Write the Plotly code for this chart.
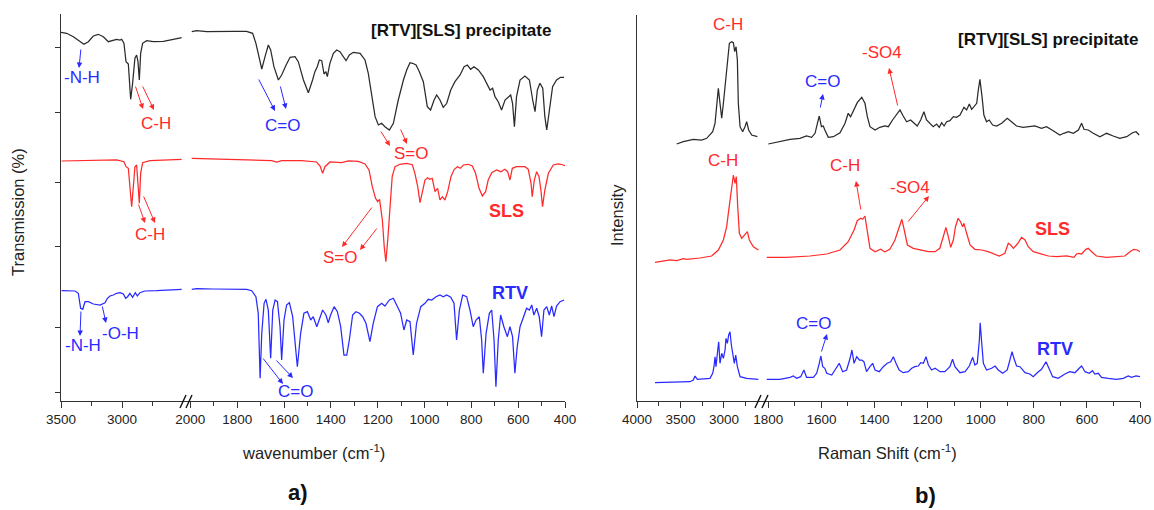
import plotly.graph_objects as go

W, H = 1154, 510

# ---------------- Panel a : FTIR ----------------
# high-wavenumber segment (3500-2450)
ir_prec_hi_x = [3500, 3454, 3399, 3344, 3312, 3276, 3235, 3194, 3153, 3112, 3071, 3044, 3016, 3003, 2984, 2967, 2948, 2929, 2913, 2894, 2880, 2869, 2858, 2847, 2831, 2798, 2743, 2661, 2579, 2511]
ir_prec_hi_y = [367.7, 366.7, 363.3, 358.3, 355.7, 358.3, 364, 365.7, 363.3, 358.3, 359.3, 360.7, 360, 360.7, 356.7, 338.3, 336, 300.7, 316.7, 341.7, 345, 338.3, 320, 346.7, 356.7, 359.3, 358.3, 358.7, 360.7, 362.3]
ir_sls_hi_x = [3495, 3317, 3180, 3044, 2984, 2967, 2948, 2935, 2921, 2907, 2894, 2880, 2869, 2858, 2847, 2831, 2771, 2634, 2511]
ir_sls_hi_y = [239, 239.3, 239.7, 240, 238.3, 233.3, 231.7, 213.3, 193.3, 213.3, 233.3, 235, 220, 196.7, 226.7, 237.3, 239.3, 240, 240.7]
ir_rtv_hi_x = [3495, 3385, 3358, 3339, 3322, 3303, 3276, 3235, 3180, 3139, 3120, 3098, 3071, 3044, 3016, 2989, 2970, 2954, 2935, 2913, 2891, 2874, 2853, 2812, 2716, 2607, 2511]
ir_rtv_hi_y = [109.3, 109, 106.7, 91.7, 90.7, 98.3, 98.3, 96, 95, 97.3, 101.7, 104, 105, 106.7, 107.3, 106, 101.7, 103.3, 106.7, 102.7, 107.3, 104, 107.3, 109, 109.3, 110, 110.7]

# low-wavenumber segment (2010-400)
ir_prec_lo_x = [1994, 1973, 1930, 1873, 1816, 1760, 1734, 1720, 1705, 1695, 1681, 1667, 1657, 1643, 1624, 1610, 1591, 1574, 1553, 1539, 1517, 1496, 1478, 1468, 1458, 1449, 1439, 1429, 1421, 1415, 1404, 1389, 1375, 1361, 1347, 1335, 1321, 1304, 1275, 1254, 1240, 1226, 1211, 1197, 1183, 1169, 1150, 1133, 1112, 1090, 1076, 1062, 1051, 1036, 1022, 1005, 988, 974, 959, 948, 934, 920, 905, 888, 870, 848, 831, 817, 803, 789, 770, 749, 735, 720, 709, 699, 685, 671, 656, 642, 632, 624, 616, 607, 592, 571, 552, 538, 528, 518, 507, 495, 486, 478, 467, 453, 436, 419, 404]
ir_prec_lo_y = [368.3, 369.3, 368.3, 368.7, 368.7, 368.7, 366.7, 356.7, 340, 331, 343.3, 355, 350, 333.3, 320, 325, 335, 342.7, 343.3, 338.3, 320, 307.3, 320, 328.3, 333.3, 340, 339.3, 326, 328.3, 323.3, 336.7, 346.7, 350, 348.3, 343.3, 339.3, 345, 347.7, 346.7, 340, 326.7, 303.3, 283.3, 275, 276.7, 273.3, 270, 276.7, 300, 320, 330, 337.3, 336.7, 335, 328.3, 318.3, 293.3, 290, 300, 305, 300, 292.7, 296.7, 310, 318.3, 325, 333.3, 335, 330.7, 333.3, 330, 323.3, 316.7, 310, 311.7, 303.3, 298.3, 290, 300, 303.3, 305, 296.7, 273.3, 303.3, 320, 324, 320, 300, 288.3, 310, 316.7, 311.7, 283.3, 270, 290, 313.3, 320, 322.7, 322.7]
ir_sls_lo_x = [1994, 1880, 1738, 1653, 1631, 1610, 1525, 1461, 1446, 1435, 1425, 1404, 1354, 1325, 1283, 1254, 1237, 1223, 1209, 1200, 1192, 1180, 1172, 1165, 1157, 1147, 1138, 1126, 1105, 1076, 1052, 1041, 1029, 1019, 1009, 998, 987, 977, 967, 955, 944, 934, 924, 913, 901, 887, 873, 859, 847, 834, 813, 796, 782, 767, 753, 739, 728, 713, 692, 674, 657, 645, 635, 625, 607, 571, 557, 545, 540, 531, 521, 511, 503, 496, 486, 471, 450, 429, 407, 400]
ir_sls_lo_y = [241.7, 240.7, 240, 239.3, 238, 239.3, 239.3, 238, 234, 226.7, 233.3, 238, 237.3, 239, 238.7, 236, 230, 213.3, 201.7, 198.3, 200.7, 180, 153.3, 138.3, 160, 196.7, 223.3, 233.3, 235.7, 236.7, 235.3, 226.7, 213.3, 197.3, 210, 220, 222.3, 220.7, 221.7, 208.3, 211.7, 200, 203.3, 200, 208.3, 223.3, 230.7, 233.3, 231.7, 235, 235.7, 234, 226.7, 211.7, 204, 208.3, 220, 227.3, 230, 228.3, 230.7, 228.3, 220, 231.7, 233.3, 233.3, 230.7, 216.7, 203.3, 220, 228.3, 223.3, 210, 193.3, 210, 226.7, 235, 236, 235, 234.3]
ir_rtv_lo_x = [1994, 1973, 1902, 1831, 1759, 1738, 1720, 1710, 1702, 1695, 1685, 1677, 1667, 1657, 1648, 1638, 1628, 1617, 1610, 1600, 1589, 1577, 1563, 1543, 1529, 1515, 1500, 1486, 1475, 1460, 1449, 1435, 1421, 1411, 1401, 1386, 1372, 1358, 1344, 1332, 1321, 1307, 1293, 1278, 1264, 1250, 1233, 1219, 1201, 1183, 1169, 1150, 1133, 1119, 1102, 1088, 1076, 1062, 1048, 1034, 1016, 998, 984, 969, 951, 934, 920, 905, 888, 874, 863, 851, 837, 820, 806, 792, 780, 766, 756, 749, 737, 723, 713, 703, 695, 685, 675, 661, 646, 635, 624, 614, 604, 592, 578, 564, 552, 542, 533, 521, 510, 500, 490, 478, 467, 457, 447, 436, 421, 404]
ir_rtv_lo_y = [110.7, 111.3, 111, 110.7, 110.7, 109.3, 103.3, 86.7, 21.7, 66.7, 96.7, 100.7, 90, 41.7, 90, 100, 98.3, 73.3, 40, 80, 95, 97.3, 83.3, 33.3, 66.7, 86.7, 88.3, 80, 83.3, 73.3, 81.7, 90, 85, 77.3, 85, 93.3, 88.3, 73.3, 45, 45, 60, 85, 88.3, 86.7, 83.3, 76.7, 58.3, 76.7, 93.3, 96.7, 94, 100, 101.7, 95, 86.7, 70, 80, 78.3, 45, 76.7, 93.3, 96.7, 100.7, 100, 103.3, 105, 103.3, 105, 102.7, 96.7, 60, 90, 105, 103.3, 90, 73.3, 80, 83.3, 60, 26.7, 66.7, 86.7, 90, 60, 13.3, 60, 85, 73.3, 63.3, 73.3, 63.3, 26.7, 53.3, 73.3, 83.3, 91.7, 90, 95, 85, 91.7, 83.3, 63.3, 90, 93.3, 85, 94, 83.3, 94, 98.3, 100]

# ---------------- Panel b : Raman ----------------
ra_prec_hi_x = [3543, 3467, 3352, 3256, 3198, 3160, 3129, 3102, 3083, 3064, 3045, 3025, 3006, 2976, 2956, 2937, 2910, 2891, 2876, 2860, 2845, 2834, 2814, 2784, 2757, 2738, 2715, 2680, 2615]
ra_prec_hi_y = [257, 259.3, 261.7, 261, 262.7, 266, 269.3, 277.7, 294.3, 312.7, 297.7, 282.7, 297.7, 321, 341, 357.7, 359.3, 358.3, 349.3, 354.3, 341, 297.7, 274.3, 269.3, 274.3, 279.3, 271, 266, 264.3]
ra_sls_hi_x = [3793, 3659, 3620, 3543, 3467, 3428, 3275, 3141, 3064, 3006, 2968, 2949, 2929, 2906, 2891, 2872, 2857, 2841, 2822, 2795, 2757, 2730, 2707, 2661, 2603]
ra_sls_hi_y = [138.7, 140.3, 141, 140.3, 142.3, 141.7, 143, 145, 151, 161, 174.3, 187.7, 201, 214.3, 226, 217.7, 224.3, 194.3, 167.7, 162.7, 166, 169.3, 161, 154.3, 151]
ra_rtv_hi_x = [3793, 3582, 3390, 3352, 3332, 3306, 3160, 3129, 3114, 3102, 3091, 3075, 3060, 3045, 3025, 3006, 2987, 2976, 2960, 2945, 2930, 2914, 2899, 2880, 2864, 2845, 2814, 2738, 2603]
ra_rtv_hi_y = [18.3, 18.7, 19.3, 21, 25, 21.7, 22.7, 27.7, 34.3, 44.3, 34.3, 47.7, 59.3, 37.7, 47.7, 42.7, 51, 62.7, 57.7, 66, 69.3, 56, 47.7, 37.7, 46, 34.3, 24.3, 22.7, 21.7]

ra_prec_lo_x = [1800, 1756, 1718, 1681, 1656, 1637, 1624, 1615, 1608, 1600, 1593, 1587, 1574, 1555, 1530, 1511, 1499, 1490, 1480, 1465, 1448, 1436, 1427, 1417, 1398, 1380, 1361, 1348, 1332, 1314, 1304, 1292, 1279, 1264, 1251, 1239, 1226, 1214, 1204, 1191, 1179, 1166, 1156, 1147, 1138, 1128, 1116, 1103, 1091, 1078, 1063, 1053, 1043, 1034, 1025, 1015, 1009, 1003, 995, 988, 978, 968, 955, 940, 921, 900, 884, 865, 840, 815, 796, 771, 752, 727, 702, 687, 670, 651, 632, 620, 611, 595, 576, 551, 526, 501, 476, 450, 428, 415, 403]
ra_prec_lo_y = [257, 259.3, 261.7, 262.7, 265, 263.7, 267.7, 277.7, 285, 274.3, 275, 271, 263.7, 264.3, 268.3, 277.7, 287.7, 284.3, 289.3, 298.3, 303.7, 297.7, 284.3, 274.3, 271, 273.7, 275, 274.3, 281, 288.3, 291, 285, 279.3, 281, 277.7, 275, 281, 289.3, 281, 277.7, 274.3, 277, 273.7, 278.3, 275, 279.3, 280.3, 284.3, 283.7, 286, 293.7, 291, 297, 291.7, 295, 297.7, 311, 321.7, 304.3, 286, 279.3, 281, 276, 275, 277.7, 282.7, 279.3, 275, 273.7, 274.3, 275, 272.7, 274.3, 270.3, 266, 267.7, 269.3, 267.7, 271, 277.7, 271.7, 271, 267.7, 264.3, 267.7, 265, 262.7, 264.3, 268.3, 269.3, 266]
ra_sls_lo_x = [1806, 1731, 1643, 1580, 1530, 1499, 1477, 1465, 1452, 1445, 1436, 1427, 1417, 1398, 1377, 1361, 1342, 1323, 1304, 1297, 1288, 1276, 1254, 1229, 1197, 1172, 1154, 1141, 1131, 1122, 1113, 1103, 1095, 1085, 1076, 1068, 1063, 1053, 1040, 1022, 996, 972, 953, 930, 909, 896, 887, 877, 862, 846, 833, 821, 802, 777, 745, 714, 676, 649, 639, 629, 620, 604, 595, 582, 564, 526, 488, 457, 438, 423, 410, 400]
ra_sls_lo_y = [143.7, 143.7, 145, 147, 151, 159.3, 171, 180.3, 182.7, 181.7, 185, 167.7, 152.7, 149.3, 151.7, 149.3, 151.7, 161, 177.7, 181.7, 171, 156, 152.7, 151, 149.3, 149.3, 152.7, 164.3, 173.7, 164.3, 153.7, 161, 174.3, 182.7, 179.3, 174.3, 177.7, 167.7, 156, 151.7, 151, 149.3, 147.7, 145, 147.7, 157.7, 156, 152.7, 157, 163.7, 161, 154.3, 149.3, 147.7, 145, 144.3, 145, 143.7, 147, 147.7, 147, 151.7, 152.7, 149.3, 145, 143.7, 144.3, 145, 149.3, 151.7, 151, 149.3]
ra_rtv_lo_x = [1806, 1756, 1718, 1706, 1693, 1678, 1666, 1656, 1630, 1618, 1608, 1602, 1595, 1587, 1580, 1561, 1549, 1533, 1520, 1505, 1492, 1485, 1477, 1467, 1457, 1448, 1440, 1430, 1417, 1407, 1398, 1382, 1367, 1352, 1339, 1329, 1319, 1307, 1292, 1273, 1260, 1248, 1235, 1226, 1216, 1206, 1197, 1185, 1172, 1153, 1135, 1116, 1106, 1097, 1078, 1059, 1043, 1030, 1022, 1013, 1005, 1002, 997, 990, 978, 959, 946, 934, 917, 900, 890, 882, 875, 865, 852, 833, 815, 802, 787, 771, 754, 742, 729, 708, 683, 664, 645, 629, 620, 607, 591, 579, 570, 557, 545, 520, 488, 463, 444, 432, 415, 400]
ra_rtv_lo_y = [21.7, 21.7, 23.7, 25, 22.7, 24.3, 31, 23.7, 23.7, 27.7, 37.7, 45, 34.3, 32.7, 27.7, 26, 31, 37.7, 29.3, 31, 42.7, 51, 37.7, 44.3, 41, 41, 39.3, 29.3, 34.3, 37.7, 31, 29.3, 34.3, 37.7, 39.3, 44.3, 37.7, 31, 28.3, 29.3, 32.7, 34.3, 35, 38.3, 37.7, 44.3, 36, 31, 32.7, 29.3, 29.3, 34.3, 41.7, 34.3, 28.3, 29.3, 35, 43.7, 36, 37.7, 61, 78.3, 61, 37.7, 31, 32.7, 35, 31, 27.7, 31, 41, 49.3, 42.7, 35, 34.3, 28.3, 27, 24.3, 28.3, 31.7, 39.3, 32.7, 24.3, 22.7, 27, 29.3, 28.3, 32.7, 35, 29.3, 27.7, 30.3, 27, 27.7, 23.7, 22.7, 21.7, 22.7, 25, 23.7, 25, 24.3]

# tick values
ir_hi_major = [3500, 3000]
ir_hi_minor = [3250, 2750]
ir_lo_major = [2000, 1800, 1600, 1400, 1200, 1000, 800, 600, 400]
ir_lo_minor = [1900, 1700, 1500, 1300, 1100, 900, 700, 500]
ir_y_ticks = [353, 288, 218, 154, 73, 8]
ra_hi_major = [4000, 3500, 3000]
ra_hi_minor = [3750, 3250, 2750]
ra_lo_major = [1800, 1600, 1400, 1200, 1000, 800, 600, 400]
ra_lo_minor = [1700, 1500, 1300, 1100, 900, 700, 500]

BLACK = "#2b2b2b"
RED = "#ff2a2a"
BLUE = "#2a2aff"
AXC = "#333333"
FONT = "Arial, Liberation Sans, sans-serif"


def fx(p):
    return p / W


def fy(p):
    return 1 - p / H


fig = go.Figure()


def add(xs, ys, color, xa, ya):
    fig.add_trace(go.Scatter(x=xs, y=ys, mode="lines", line=dict(color=color, width=1.25),
                             xaxis=xa, yaxis=ya, showlegend=False, hoverinfo="skip"))


add(ir_prec_hi_x, ir_prec_hi_y, BLACK, "x", "y")
add(ir_sls_hi_x, ir_sls_hi_y, RED, "x", "y")
add(ir_rtv_hi_x, ir_rtv_hi_y, BLUE, "x", "y")
add(ir_prec_lo_x, ir_prec_lo_y, BLACK, "x2", "y")
add(ir_sls_lo_x, ir_sls_lo_y, RED, "x2", "y")
add(ir_rtv_lo_x, ir_rtv_lo_y, BLUE, "x2", "y")
add(ra_prec_hi_x, ra_prec_hi_y, BLACK, "x3", "y2")
add(ra_sls_hi_x, ra_sls_hi_y, RED, "x3", "y2")
add(ra_rtv_hi_x, ra_rtv_hi_y, BLUE, "x3", "y2")
add(ra_prec_lo_x, ra_prec_lo_y, BLACK, "x4", "y2")
add(ra_sls_lo_x, ra_sls_lo_y, RED, "x4", "y2")
add(ra_rtv_lo_x, ra_rtv_lo_y, BLUE, "x4", "y2")


def xax(dom, rng, major, minor, anchor):
    return dict(domain=[fx(dom[0]), fx(dom[1])], range=rng, anchor=anchor,
                showline=True, linecolor=AXC, linewidth=1.3, showgrid=False, zeroline=False,
                ticks="outside", ticklen=6, tickwidth=1.2, tickcolor=AXC,
                tickmode="array", tickvals=major, ticktext=[str(v) for v in major],
                tickfont=dict(family=FONT, size=13.5, color="#222"), automargin=False,
                minor=dict(tickmode="array", tickvals=minor, ticks="outside", ticklen=3.5,
                           tickwidth=1.1, tickcolor=AXC, showgrid=False))


layout = dict(
    width=W, height=H, margin=dict(l=0, r=0, t=0, b=0, autoexpand=False),
    paper_bgcolor="white", plot_bgcolor="white", showlegend=False,
    xaxis=xax((61, 188), [3500, 2459], ir_hi_major, ir_hi_minor, "y"),
    xaxis2=xax((188, 565), [2010, 400], ir_lo_major, ir_lo_minor, "y"),
    xaxis3=xax((637, 763), [4000, 2550], ra_hi_major, ra_hi_minor, "y2"),
    xaxis4=xax((763, 1140), [1820, 400], ra_lo_major, ra_lo_minor, "y2"),
    yaxis=dict(domain=[fy(401), fy(14)], range=[-1, 386], anchor="x", automargin=False,
               showline=True, linecolor=AXC, linewidth=1.3, showgrid=False, zeroline=False,
               ticks="outside", ticklen=5, tickwidth=1.2, tickcolor=AXC,
               tickmode="array", tickvals=ir_y_ticks, showticklabels=False),
    yaxis2=dict(domain=[fy(401), fy(15)], range=[0, 386], anchor="x3", automargin=False,
                showline=True, linecolor=AXC, linewidth=1.3, showgrid=False, zeroline=False,
                ticks="", showticklabels=False),
)
fig.update_layout(**layout)

ann = []


def text(t, cx, cy, color, size=17, bold=False, anchor="center", angle=0):
    if bold:
        t = "<b>" + t + "</b>"
    ann.append(dict(text=t, x=fx(cx), y=fy(cy), xref="paper", yref="paper", showarrow=False,
                    xanchor=anchor, yanchor="middle", textangle=angle,
                    font=dict(family=FONT, size=size, color=color)))


def arrow(tx, ty, hx, hy, color):
    ann.append(dict(text="", x=fx(hx), y=fy(hy), xref="paper", yref="paper", showarrow=True,
                    ax=tx - hx, ay=ty - hy, axref="pixel", ayref="pixel",
                    arrowhead=2, arrowsize=1.1, arrowwidth=1, arrowcolor=color, standoff=0))


# axis titles and panel labels
text("Transmission (%)", 18, 212, "#222", size=16.5, angle=-90)
text("Intensity", 617, 215, "#222", size=16.5, angle=-90)
text("wavenumber (cm<sup>-1</sup>)", 313, 452, "#222", size=16.5)
text("Raman Shift (cm<sup>-1</sup>)", 888, 452, "#222", size=16.5)
text("a)", 298, 492, "#111", size=22, bold=True)
text("b)", 925, 495, "#111", size=22, bold=True)

# panel a labels
text("[RTV][SLS] precipitate", 553, 30, "#111", size=17, bold=True, anchor="right")
text("SLS", 506, 211, RED, size=18, bold=True)
text("RTV", 510, 293, BLUE, size=18, bold=True)
text("-N-H", 82, 77, BLUE)
arrow(81, 48, 79, 68, BLUE)
text("C-H", 156, 123, RED)
arrow(135, 85, 143, 109, RED)
arrow(142, 85, 154, 110, RED)
text("C=O", 282, 125, BLUE)
arrow(258, 78, 275, 111, BLUE)
arrow(280, 85, 286, 109, BLUE)
text("S=O", 411, 153, RED)
arrow(380, 130, 390, 146, RED)
arrow(400, 128, 407, 144, RED)
text("C-H", 150, 235, RED)
arrow(138, 203, 145, 223, RED)
arrow(143, 195, 155, 223, RED)
text("S=O", 340, 257, RED)
arrow(373, 206, 342, 247, RED)
arrow(378, 227, 360, 250, RED)
text("-N-H", 83, 345, BLUE)
arrow(81, 310, 80, 336, BLUE)
text("-O-H", 120, 333, BLUE)
arrow(102, 305, 106, 323, BLUE)
text("C=O", 295, 391, BLUE)
arrow(262, 357, 283, 384, BLUE)
arrow(275, 359, 293, 378, BLUE)

# panel b labels
text("[RTV][SLS] precipitate", 1140, 40, "#111", size=17, bold=True, anchor="right")
text("C-H", 728, 24, RED)
text("C=O", 822, 81, BLUE)
arrow(820, 109, 823, 94, BLUE)
text("-SO4", 882, 53, RED)
arrow(898, 107, 889, 68, RED)
text("C-H", 723, 160, RED)
text("C-H", 845, 166, RED)
arrow(861, 211, 856, 181, RED)
text("-SO4", 910, 187, RED)
arrow(907, 223, 929, 196, RED)
text("SLS", 1052, 229, RED, size=18, bold=True)
text("C=O", 813, 323, BLUE)
arrow(821, 353, 827, 334, BLUE)
text("RTV", 1055, 349, BLUE, size=18, bold=True)

shapes = []
for x0 in (180, 186, 755, 762):
    shapes.append(dict(type="line", xref="paper", yref="paper",
                       x0=fx(x0), y0=fy(408), x1=fx(x0 + 6), y1=fy(395),
                       line=dict(color="#111", width=1.4)))

fig.update_layout(annotations=ann, shapes=shapes)
fig.write_html("out.html")
